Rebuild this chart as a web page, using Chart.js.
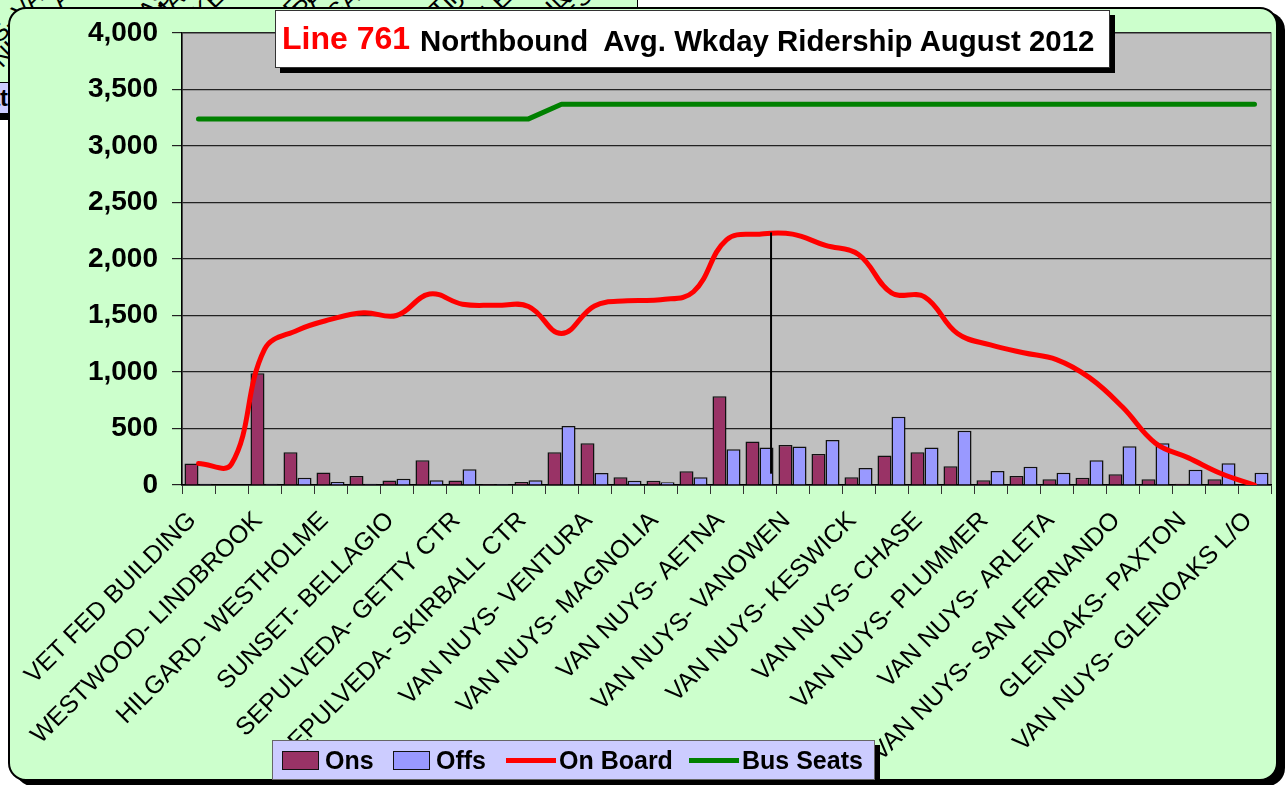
<!DOCTYPE html>
<html>
<head>
<meta charset="utf-8">
<script src="https://cdn.jsdelivr.net/npm/chart.js@4.4.1/dist/chart.umd.min.js"></script>
<style>
  body { margin: 0; background: #fff; font-family: 'Liberation Sans', Arial, sans-serif; }
  #page { position: relative; width: 1288px; height: 785px; overflow: hidden; }
  #back { position: absolute; left: 0; top: 0; width: 637px; height: 82px; background: #ccffcc; border-right: 1px solid #000; overflow: hidden; }
  #back span { position: absolute; top: -30px; font-size: 25px; white-space: nowrap; transform: rotate(-45deg); transform-origin: right top; }
  #backLegend { position: absolute; left: -200px; top: 82px; width: 207px; height: 30px; background: #ccccff; border: 1px solid #000;
    box-shadow: 0 6px 0 #000; font-weight: bold; font-size: 24px; line-height: 30px; text-align: right; overflow: hidden; }
  #frame { position: absolute; left: 8px; top: 7px; width: 1266px; height: 770px; background: #ccffcc; border: 2px solid #000;
    border-radius: 18px; box-shadow: 7px 5px 0 #000; }
  canvas { position: absolute; left: 0; top: 0; }
  #title { position: absolute; left: 275px; top: 10px; width: 833px; height: 56px; background: #fff; border: 1px solid #333;
    box-shadow: 5px 5px 0 #000; white-space: pre; font-weight: bold; }
  #title .red { position: absolute; left: 6px; top: 9px; color: #ff0000; font-size: 32px; }
  #title .rest { position: absolute; left: 144px; top: 13px; color: #000; font-size: 29.4px; }
  #legend { position: absolute; left: 272px; top: 740px; width: 601px; height: 38px; background: #ccccff; border: 1px solid #666;
    box-shadow: 5px 5px 0 #000; font-weight: bold; font-size: 25px; }
  #legend .item { position: absolute; top: 0; height: 38px; display: flex; align-items: center; }
  #legend .item:nth-child(1) { left: 9px; }
  #legend .item:nth-child(2) { left: 120px; }
  #legend .item:nth-child(3) { left: 233px; }
  #legend .item:nth-child(4) { left: 416px; }
  #legend .box { width: 35px; height: 17px; border: 1.5px solid #111; margin-right: 6px; }
  #legend .line { width: 50px; height: 5px; margin-right: 3px; }
</style>
</head>
<body>
<div id="page">
  <div id="back">
    <span style="left:-150px">VAN NUYS- VAN</span>
    <span style="left:-105px">VAN NUYS- AE</span>
    <span style="left:-60px">VAN NUYS- CHASE</span>
    <span style="left:-15px">VAN NUYS- MAG</span>
    <span style="left:30px">VAN NUYS- KES</span>
    <span style="left:75px">VAN NUYS- ARLETA</span>
    <span style="left:120px">GLENOAKS- PAX</span>
    <span style="left:165px">VAN NUYS- SAN</span>
    <span style="left:210px">SEPULVEDA- GETTY</span>
    <span style="left:255px">VAN NUYS- PLUM</span>
    <span style="left:300px">VAN NUYS- GLEN</span>
    <span style="left:345px">WESTWOOD- LIND</span>
    <span style="left:390px">HILGARD- WEST</span>
  </div>
  <div id="backLegend">Bus Seat</div>
  <div id="frame"></div>
  <canvas id="ridership" width="1288" height="785"></canvas>
  <div id="title"><span class="red">Line 761</span><span class="rest">Northbound  Avg. Wkday Ridership August 2012</span></div>
  <div id="legend"></div>
</div>

<script>
// stops (only every other stop is labelled on the axis)
const stops = [
  'VET FED BUILDING', '', 'WESTWOOD- LINDBROOK', '', 'HILGARD- WESTHOLME', '',
  'SUNSET- BELLAGIO', '', 'SEPULVEDA- GETTY CTR', '', 'SEPULVEDA- SKIRBALL CTR', '',
  'VAN NUYS- VENTURA', '', 'VAN NUYS- MAGNOLIA', '', 'VAN NUYS- AETNA', '',
  'VAN NUYS- VANOWEN', '', 'VAN NUYS- KESWICK', '', 'VAN NUYS- CHASE', '',
  'VAN NUYS- PLUMMER', '', 'VAN NUYS- ARLETA', '', 'VAN NUYS- SAN FERNANDO', '',
  'GLENOAKS- PAXTON', '', 'VAN NUYS- GLENOAKS L/O'
]

const ons = [190, 0, 990, 290, 110, 80, 40, 220, 40, 8, 27, 290, 370, 68, 38, 121, 785,
  384, 355, 275, 68, 260, 290, 165, 41, 80, 50, 65, 95, 50, 12, 50, 0]

const offs = [10, 0, 10, 65, 27, 10, 56, 41, 139, 8, 41, 523, 106, 38, 24, 68, 316,
  331, 340, 399, 151, 603, 331, 480, 124, 162, 109, 219, 343, 370, 136, 192, 109]

const onBoard = [190, 185, 1200, 1370, 1465, 1525, 1500, 1690, 1600, 1590, 1580, 1340, 1585,
  1630, 1640, 1710, 2170, 2220, 2220, 2120, 2040, 1700, 1665, 1340, 1240, 1170, 1110,
  950, 690, 370, 240, 100, 0]

const busSeats = [3240, 3240, 3240, 3240, 3240, 3240, 3240, 3240, 3240, 3240, 3240,
  3370, 3370, 3370, 3370, 3370, 3370, 3370, 3370, 3370, 3370, 3370, 3370, 3370, 3370,
  3370, 3370, 3370, 3370, 3370, 3370, 3370, 3370]

const yTicks = [0, 500, 1000, 1500, 2000, 2500, 3000, 3500, 4000]

// the thin black drop line near VANOWEN: stop index, top and bottom values
const dropStop = 17.35
const dropFrom = 2235
const dropTo = 100

const font = "'Liberation Sans', Arial, sans-serif"

const plotBg = {
  id: 'plotBg',
  beforeDraw(chart) {
    const { ctx, chartArea: a } = chart
    ctx.save()
    ctx.fillStyle = '#c0c0c0'
    ctx.fillRect(a.left, a.top, a.width, a.height)
    ctx.strokeStyle = '#808080'
    ctx.lineWidth = 1.5
    ctx.strokeRect(a.left, a.top, a.width, a.height)
    ctx.restore()
  },
  afterDatasetsDraw(chart) {
    const { ctx, scales } = chart
    const i = Math.floor(dropStop)
    const step = scales.x.getPixelForValue(i + 1) - scales.x.getPixelForValue(i)
    const x = scales.x.getPixelForValue(i) + (dropStop - i) * step
    ctx.save()
    ctx.strokeStyle = '#000'
    ctx.lineWidth = 2
    ctx.beginPath()
    ctx.moveTo(x, scales.y.getPixelForValue(dropFrom))
    ctx.lineTo(x, scales.y.getPixelForValue(dropTo))
    ctx.stroke()
    ctx.restore()
  }
}

const datasets = [
  { label: 'Ons', data: ons, backgroundColor: '#993366', borderColor: '#111', borderWidth: 1.5, order: 1 },
  { label: 'Offs', data: offs, backgroundColor: '#9999ff', borderColor: '#111', borderWidth: 1.5, order: 1 },
  { type: 'line', label: 'On Board', data: onBoard, borderColor: '#ff0000', borderWidth: 5,
    pointRadius: 0, tension: 0.4, borderCapStyle: 'round', borderJoinStyle: 'round', order: 0 },
  { type: 'line', label: 'Bus Seats', data: busSeats, borderColor: '#008000', borderWidth: 5,
    pointRadius: 0, tension: 0, borderCapStyle: 'round', borderJoinStyle: 'round', order: 0 }
]

new Chart(document.getElementById('ridership'), {
  type: 'bar',
  data: { labels: stops, datasets: datasets },
  plugins: [plotBg],
  options: {
    responsive: false,
    animation: false,
    devicePixelRatio: 1,
    layout: { padding: { top: 33, right: 17, left: 0, bottom: 0 } },
    datasets: { bar: { categoryPercentage: 0.85, barPercentage: 1 } },
    plugins: { legend: { display: false }, title: { display: false }, tooltip: { enabled: false } },
    scales: {
      x: {
        afterFit(s) { s.height = 300 },
        grid: { drawOnChartArea: false, tickLength: 9, color: '#333', offset: true },
        border: { color: '#000', width: 1.5 },
        ticks: { autoSkip: false, minRotation: 45, maxRotation: 45, padding: 12, labelOffset: -6,
          color: '#000', font: { family: font, size: 25 } }
      },
      y: {
        min: 0,
        max: 4000,
        afterFit(s) { s.width = 182 },
        afterBuildTicks(s) { s.ticks = yTicks.map(v => ({ value: v })) },
        grid: { color: '#222', tickLength: 10, lineWidth: 1.2 },
        border: { color: '#000', width: 1.5 },
        ticks: { padding: 14, color: '#000', font: { family: font, size: 28, weight: 'bold' },
          callback: v => v.toLocaleString('en-US') }
      }
    }
  }
})

// legend box, built from the datasets
const legend = document.getElementById('legend')
datasets.forEach(d => {
  const item = document.createElement('div')
  item.className = 'item'
  const key = document.createElement('div')
  if (d.type === 'line') {
    key.className = 'line'
    key.style.background = d.borderColor
  } else {
    key.className = 'box'
    key.style.background = d.backgroundColor
  }
  const text = document.createElement('span')
  text.textContent = d.label
  item.appendChild(key)
  item.appendChild(text)
  legend.appendChild(item)
})
</script>
</body>
</html>
